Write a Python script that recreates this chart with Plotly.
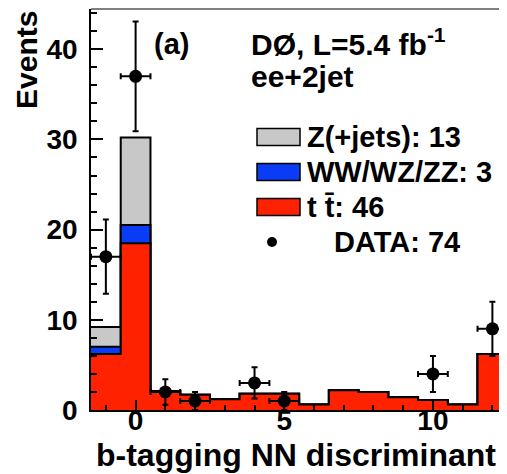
import plotly.graph_objects as go
import numpy as np

# ---- data ----
bin_centers = [-1, 0, 1, 2, 3, 4, 5, 6, 7, 8, 9, 10, 11, 12]
ttbar = [6.2, 18.5, 2.1, 1.7, 1.2, 1.8, 1.8, 0.6, 2.2, 2.0, 1.4, 1.1, 0.6, 6.2]
diboson = [0.8, 2.0, 0, 0, 0, 0, 0, 0, 0, 0, 0, 0, 0, 0]
zjets = [2.2, 9.7, 0, 0, 0, 0, 0, 0, 0, 0, 0, 0, 0, 0]
data_x = [-1, 0, 1, 2, 4, 5, 10, 12]
data_y = [17, 37, 2, 1, 3, 1, 4, 9]
legend_labels = ["Z(+jets): 13", "WW/WZ/ZZ: 3", "t t\u0304: 46", "DATA: 74"]

# ---- styling ----
OFF = 8  # page body margin in the browser
PAGE_W, PAGE_H = 507, 474
W, H = PAGE_W - 2 * OFF, PAGE_H - OFF
PLOT_L, PLOT_T, PLOT_B = 91, 9, 410   # reference pixel positions of the frame
PX_PER_UNIT = 29.7
X0_PIX = 136                           # pixel of x = 0
L, T = PLOT_L - OFF, PLOT_T - OFF
B = H - (PLOT_B - OFF)
R = 0
x_right = (PAGE_W - OFF - X0_PIX) / PX_PER_UNIT
FONT = "Liberation Sans"
C_RED = "#ff2200"
C_BLUE = "#0a3cf5"
C_GRAY = "#c8c8c8"

def px(x):
    return (x - OFF - L) / (W - L - R)

def py(y):
    return (H - B - (y - OFF)) / (H - T - B)

edges = [c - 0.5 for c in bin_centers] + [bin_centers[-1] + 0.5]
lvl_red = np.array(ttbar)
lvl_blue = lvl_red + np.array(diboson)
lvl_gray = lvl_blue + np.array(zjets)

fig = go.Figure()
for lvl, col in [(lvl_gray, C_GRAY), (lvl_blue, C_BLUE), (lvl_red, C_RED)]:
    yy = list(lvl) + [lvl[-1]]
    fig.add_trace(go.Scatter(x=edges, y=yy, mode="lines", line_shape="hv",
                             line=dict(color="black", width=2),
                             fill="tozeroy", fillcolor=col, showlegend=False,
                             hoverinfo="skip"))

fig.add_trace(go.Scatter(
    x=data_x, y=data_y, mode="markers",
    marker=dict(color="black", size=13, symbol="circle"),
    error_y=dict(type="data", array=list(np.sqrt(data_y)), color="black", thickness=2, width=3),
    error_x=dict(type="constant", value=0.5, color="black", thickness=2, width=3),
    showlegend=False))

annotations = []
shapes = []

# top frame line
shapes.append(dict(type="line", xref="paper", yref="paper", x0=0, x1=1, y0=1, y1=1,
                   line=dict(color="black", width=1)))

def txt(text, x, y, size, xanchor="left", yanchor="middle", angle=0):
    annotations.append(dict(text=text, xref="paper", yref="paper", x=px(x), y=py(y),
                            xanchor=xanchor, yanchor=yanchor, showarrow=False, textangle=angle,
                            font=dict(family=FONT, size=size, color="black", weight="bold")))

txt("b-tagging NN discriminant", 498, 455, 32, xanchor="right")
txt("Events", 27, 60, 30, xanchor="center", angle=-90)
txt("(a)", 171, 44, 29, xanchor="center")
txt("D\u00d8, L=5.4 fb<sup>-1</sup>", 249, 42, 30)
txt("ee+2jet", 249, 76, 30)

rows = [137, 172, 207, 242]
box_cols = [C_GRAY, C_BLUE, C_RED]
for i, col in enumerate(box_cols):
    yc = rows[i]
    shapes.append(dict(type="rect", xref="paper", yref="paper",
                       x0=px(257), x1=px(300), y0=py(yc - 8.5), y1=py(yc + 8.5),
                       fillcolor=col, line=dict(color="black", width=1.5)))
    txt(legend_labels[i], 305, yc, 29)
shapes.append(dict(type="circle", xref="paper", yref="paper",
                   x0=px(267), x1=px(277), y0=py(rows[3] - 5), y1=py(rows[3] + 5),
                   fillcolor="black", line=dict(color="black", width=0)))
txt(legend_labels[3], 332, rows[3], 29)

fig.update_layout(
    width=W, height=H, margin=dict(l=L, r=R, t=T, b=B, pad=0, autoexpand=False),
    plot_bgcolor="white", paper_bgcolor="white",
    font=dict(family=FONT, color="black"),
    annotations=annotations, shapes=shapes, showlegend=False,
    xaxis=dict(range=[-1.5, x_right], showgrid=False, zeroline=False,
               showline=True, linecolor="black", linewidth=2,
               ticks="inside", ticklen=10, tickwidth=1.5, tickcolor="black",
               tick0=0, dtick=5,
               minor=dict(ticks="inside", ticklen=5, tickwidth=1.5, tickcolor="black", dtick=1, tick0=0),
               tickfont=dict(family=FONT, size=28, color="black", weight="bold"),
               ticklabelstandoff=-16),
    yaxis=dict(range=[0, 44.46], showgrid=False, zeroline=False,
               showline=True, linecolor="black", linewidth=1.5,
               ticks="inside", ticklen=12, tickwidth=1.5, tickcolor="black",
               tick0=0, dtick=10,
               minor=dict(ticks="inside", ticklen=6, tickwidth=1.5, tickcolor="black", dtick=2, tick0=0),
               tickfont=dict(family=FONT, size=28, color="black", weight="bold"),
               ticklabelstandoff=6),
)

fig.write_html("out.html")
